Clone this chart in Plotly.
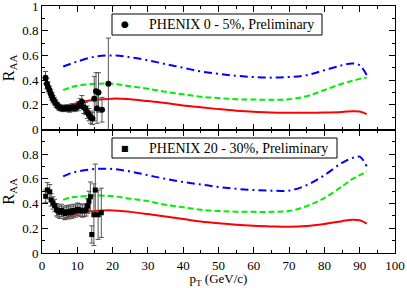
import plotly.graph_objects as go
from plotly.subplots import make_subplots

# ---- data: top panel (PHENIX 0-5%) ----
top_x = [1.0, 1.4, 1.7, 2.1, 2.5, 2.8, 3.1, 3.5, 3.9, 4.4, 4.8, 5.3, 5.8, 6.3, 6.8, 7.3, 7.8, 8.3,
         8.8, 9.3, 9.8, 10.3, 10.8, 11.3, 11.8, 12.3, 12.8, 13.3, 13.8, 14.3, 14.8, 15.3, 15.6,
         16.0, 17.0, 18.8]
top_y = [0.42, 0.37, 0.345, 0.32, 0.29, 0.27, 0.245, 0.23, 0.21, 0.195, 0.18, 0.175, 0.17, 0.17,
         0.175, 0.17, 0.17, 0.175, 0.18, 0.175, 0.18, 0.19, 0.21, 0.225, 0.18, 0.17, 0.14, 0.12,
         0.10, 0.09, 0.25, 0.31, 0.17, 0.30, 0.16, 0.37]
top_err = [0.05, 0.04, 0.04, 0.03, 0.03, 0.03, 0.03, 0.03, 0.03, 0.025, 0.025, 0.025, 0.025, 0.025,
           0.025, 0.025, 0.03, 0.03, 0.03, 0.03, 0.03, 0.035, 0.04, 0.05, 0.05, 0.05, 0.05, 0.05,
           0.05, 0.05, 0.18, 0.15, 0.12, 0.16, 0.10, 0.37]

# ---- data: bottom panel (PHENIX 20-30%) ----
bot_x = [1.05, 1.5, 2.2, 2.6, 3.1, 3.6, 4.1, 4.5, 5.0, 5.5, 6.0, 6.5, 7.0, 7.5, 8.0, 8.5, 9.0, 9.5,
         10.0, 10.5, 11.0, 11.5, 12.0, 12.5, 12.9, 13.3, 13.7, 14.1, 14.7, 15.1, 15.9, 16.8]
bot_y = [0.46, 0.51, 0.495, 0.43, 0.405, 0.385, 0.35, 0.34, 0.33, 0.345, 0.33, 0.32, 0.335, 0.325,
         0.34, 0.33, 0.345, 0.34, 0.355, 0.35, 0.345, 0.34, 0.345, 0.35, 0.38, 0.42, 0.455, 0.15,
         0.31, 0.51, 0.31, 0.325]
bot_err = [0.05, 0.06, 0.06, 0.05, 0.05, 0.05, 0.05, 0.05, 0.05, 0.05, 0.05, 0.05, 0.05, 0.05, 0.05,
           0.05, 0.05, 0.05, 0.05, 0.05, 0.05, 0.05, 0.05, 0.05, 0.06, 0.08, 0.12, 0.07, 0.25, 0.21,
           0.20, 0.20]

# ---- theory curves ----
curve_x = [6, 8, 10, 15, 20, 25, 30, 35, 40, 45, 50, 55, 60, 65, 70, 75, 80, 85, 88, 90, 92]
top_blue = [0.51, 0.53, 0.55, 0.59, 0.60, 0.585, 0.56, 0.53, 0.50, 0.47, 0.45, 0.435, 0.425, 0.42,
            0.425, 0.44, 0.48, 0.52, 0.535, 0.52, 0.44]
top_green = [0.32, 0.34, 0.355, 0.37, 0.37, 0.35, 0.33, 0.305, 0.285, 0.265, 0.255, 0.245, 0.243,
             0.24, 0.245, 0.27, 0.32, 0.37, 0.395, 0.41, 0.42]
top_red = [0.183, 0.20, 0.215, 0.24, 0.25, 0.245, 0.23, 0.215, 0.195, 0.18, 0.165, 0.152, 0.143,
           0.138, 0.135, 0.135, 0.137, 0.142, 0.148, 0.145, 0.124]
bot_blue = [0.62, 0.645, 0.66, 0.68, 0.68, 0.66, 0.63, 0.60, 0.575, 0.555, 0.535, 0.52, 0.51, 0.505,
            0.505, 0.55, 0.63, 0.73, 0.77, 0.78, 0.70]
bot_green = [0.43, 0.45, 0.455, 0.465, 0.46, 0.44, 0.42, 0.39, 0.37, 0.35, 0.34, 0.335, 0.333, 0.333,
             0.34, 0.38, 0.445, 0.54, 0.60, 0.63, 0.66]
bot_red = [0.27, 0.30, 0.32, 0.34, 0.345, 0.333, 0.315, 0.295, 0.275, 0.255, 0.24, 0.228, 0.22, 0.215,
           0.212, 0.218, 0.235, 0.258, 0.27, 0.265, 0.238]

legend_top = "PHENIX 0 - 5%, Preliminary"
legend_bot = "PHENIX 20 - 30%, Preliminary"

x_ticks = [0, 10, 20, 30, 40, 50, 60, 70, 80, 90, 100]
y_ticks = [0, 0.2, 0.4, 0.6, 0.8, 1.0]
y_top_text = ["0", "0.2", "0.4", "0.6", "0.8", "1"]
y_bot_text = ["0", "0.2", "0.4", "0.6", "0.8", ""]

FONT = "Liberation Serif, DejaVu Serif, serif"

fig = make_subplots(rows=2, cols=1, shared_xaxes=True, vertical_spacing=0)

def add_panel(row, dx, dy, derr, symbol, msize, blue, green, red):
    fig.add_trace(go.Scatter(x=curve_x, y=red, mode="lines", line=dict(color="#ff0000", width=2, shape="spline")), row=row, col=1)
    fig.add_trace(go.Scatter(x=curve_x, y=green, mode="lines",
                             line=dict(color="#00ee00", width=2, dash="6px,3px", shape="spline")), row=row, col=1)
    fig.add_trace(go.Scatter(x=curve_x, y=blue, mode="lines",
                             line=dict(color="#0000ff", width=2, dash="8px,4px,2px,4px", shape="spline")), row=row, col=1)
    fig.add_trace(go.Scatter(x=dx, y=dy, mode="markers",
                             marker=dict(symbol=symbol, size=msize, color="black"),
                             error_y=dict(type="data", array=derr, color="#555555", thickness=1, width=2.5)),
                  row=row, col=1)

add_panel(1, top_x, top_y, top_err, "circle", 6, top_blue, top_green, top_red)
add_panel(2, bot_x, bot_y, bot_err, "square", 5, bot_blue, bot_green, bot_red)

axis_common = dict(showline=True, linecolor="black", linewidth=1, mirror="allticks", automargin=False,
                   ticks="inside", ticklen=6, tickcolor="black", showgrid=False, zeroline=False,
                   ticklabeloverflow="allow",
                   tickfont=dict(family=FONT, size=13, color="black"))

fig.update_xaxes(range=[0, 100], tickvals=x_ticks, **axis_common,
                 minor=dict(dtick=5, tick0=0, ticklen=3, ticks="inside", tickcolor="black"))
fig.update_xaxes(showticklabels=False, row=1, col=1)
fig.update_xaxes(row=2, col=1,
                 title=dict(text="p<sub>T</sub> (GeV/c)", font=dict(family=FONT, size=13, color="black"), standoff=2))
fig.update_yaxes(range=[0, 1], tickvals=y_ticks, **axis_common,
                 minor=dict(dtick=0.1, tick0=0, ticklen=3, ticks="inside", tickcolor="black"))
fig.update_yaxes(ticktext=y_top_text, row=1, col=1,
                 title=dict(text="R<sub>AA</sub>", font=dict(family=FONT, size=16, color="black"), standoff=4))
fig.update_yaxes(ticktext=y_bot_text, row=2, col=1,
                 title=dict(text="R<sub>AA</sub>", font=dict(family=FONT, size=16, color="black"), standoff=4))

W, H = 407, 288
ml, mr, mt, mb = 42, 12, 6, 35
pw, ph = W - ml - mr, H - mt - mb

def px2paper(x, y):
    return (x - ml) / pw, 1 - (y - mt) / ph

shapes = []
annotations = []
for (x0, y0, x1, y1, txt, sym, sy) in [(112, 14, 322, 35, legend_top, "●", 9),
                                        (112, 138, 337, 158, legend_bot, "■", 8)]:
    a0 = px2paper(x0, y1)
    a1 = px2paper(x1, y0)
    shapes.append(dict(type="rect", xref="paper", yref="paper", x0=a0[0], y0=a0[1], x1=a1[0], y1=a1[1],
                       line=dict(color="black", width=1), fillcolor="white", layer="above"))
    cy = (y0 + y1) / 2
    mx, my = px2paper(125, cy)
    annotations.append(dict(xref="paper", yref="paper", x=mx, y=my, text=sym, showarrow=False,
                            font=dict(family="DejaVu Sans", size=sy, color="black"), xanchor="center", yanchor="middle"))
    tx, ty = px2paper(147, cy)
    annotations.append(dict(xref="paper", yref="paper", x=tx, y=ty, text=txt, showarrow=False,
                            font=dict(family=FONT, size=14, color="black"), xanchor="left", yanchor="middle"))

fig.update_layout(width=W, height=H, margin=dict(l=ml, r=mr, t=mt, b=mb, autoexpand=False),
                  paper_bgcolor="white", plot_bgcolor="white", showlegend=False,
                  font=dict(family=FONT),
                  shapes=shapes, annotations=annotations)

fig.write_html("out.html", config={"displayModeBar": False},
               post_script="document.body.style.margin='0px';document.body.style.overflow='hidden';")
